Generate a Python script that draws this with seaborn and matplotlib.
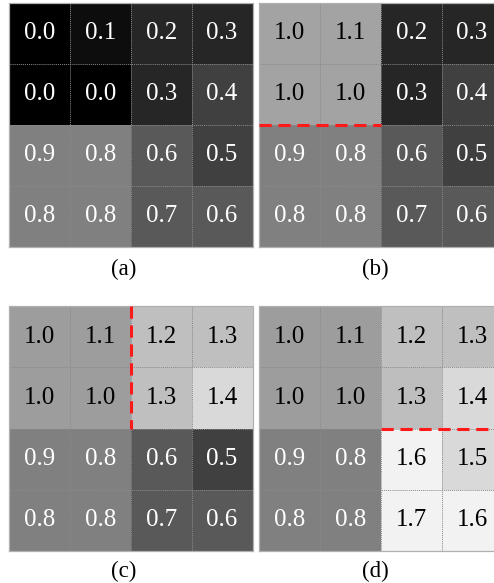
import numpy as np
import pandas as pd
import matplotlib
matplotlib.use("Agg")
import matplotlib.pyplot as plt
import seaborn as sns

# ---- data ----
labels_a = [[0.0, 0.1, 0.2, 0.3], [0.0, 0.0, 0.3, 0.4], [0.9, 0.8, 0.6, 0.5], [0.8, 0.8, 0.7, 0.6]]
labels_b = [[1.0, 1.1, 0.2, 0.3], [1.0, 1.0, 0.3, 0.4], [0.9, 0.8, 0.6, 0.5], [0.8, 0.8, 0.7, 0.6]]
labels_c = [[1.0, 1.1, 1.2, 1.3], [1.0, 1.0, 1.3, 1.4], [0.9, 0.8, 0.6, 0.5], [0.8, 0.8, 0.7, 0.6]]
labels_d = [[1.0, 1.1, 1.2, 1.3], [1.0, 1.0, 1.3, 1.4], [0.9, 0.8, 1.6, 1.5], [0.8, 0.8, 1.7, 1.6]]

# grey level of each cell (0 = black, 255 = white)
shade_a = [[0, 13, 38, 38], [0, 0, 38, 64], [128, 128, 89, 64], [128, 128, 89, 89]]
shade_b = [[163, 163, 38, 38], [163, 163, 38, 64], [128, 128, 89, 64], [128, 128, 89, 89]]
shade_c = [[157, 157, 191, 191], [157, 157, 191, 217], [128, 128, 89, 64], [128, 128, 89, 89]]
shade_d = [[157, 157, 191, 191], [157, 157, 190, 217], [128, 128, 242, 217], [128, 128, 242, 242]]

panel_names = ["(a)", "(b)", "(c)", "(d)"]
# red dashed split line per panel: (x0, x1, y0, y1) in cell units, None if absent
split_lines = [None, (0, 2, 2, 2), (2, 2, 0, 2), (2, 4, 2, 2)]

sns.set_theme(style="white")
plt.rcParams["font.family"] = ["Liberation Serif", "DejaVu Serif"]

W, H = 494, 583
fig = plt.figure(figsize=(W / 100, H / 100), dpi=100)
fig.patch.set_facecolor("white")

cell_w, cell_h = 60.8, 61.0
lefts = [9.3, 259.3, 9.3, 259.3]
tops = [2.7, 2.7, 306.5, 306.5]
label_pos = [(124, 269), (375, 269), (124, 571), (375, 571)]

all_labels = [labels_a, labels_b, labels_c, labels_d]
all_shades = [shade_a, shade_b, shade_c, shade_d]

for i in range(4):
    lab = np.array(all_labels[i])
    shd = np.array(all_shades[i]) / 255.0
    l, t = lefts[i], tops[i]
    ax = fig.add_axes([l / W, 1 - (t + 4 * cell_h) / H, 4 * cell_w / W, 4 * cell_h / H])
    annot = np.vectorize(lambda v: f"{v:.1f}")(lab)
    sns.heatmap(shd, ax=ax, cmap="gray", vmin=0, vmax=1, cbar=False,
                annot=annot, fmt="", annot_kws={"fontsize": 18, "family": "Liberation Serif"},
                xticklabels=False, yticklabels=False, linewidths=0)
    for txt, v in zip(ax.texts, lab.flatten()):
        txt.set_color("black" if v >= 1.0 else "white")
    # dotted cell grid
    for k in range(1, 4):
        ax.axhline(k, color="#8a8a8a", lw=0.7, ls=(0, (1, 1)))
        ax.axvline(k, color="#8a8a8a", lw=0.7, ls=(0, (1, 1)))
    for s in ax.spines.values():
        s.set_visible(True)
        s.set_color("#b0b0b0")
        s.set_linewidth(0.9)
        s.set_linestyle((0, (1, 1)))
    sl = split_lines[i]
    if sl is not None:
        ax.plot([sl[0], sl[1]], [sl[2], sl[3]], color="#ff1a1a", lw=2.2,
                ls=(0, (4, 2.2)), solid_capstyle="butt", zorder=5)
    ax.set_xlabel("")
    ax.set_ylabel("")
    lx, ly = label_pos[i]
    fig.text(lx / W, 1 - ly / H, panel_names[i], ha="center", va="center",
             fontsize=16.5, family="Liberation Serif", color="black")

fig.savefig("out.png", dpi=100)
